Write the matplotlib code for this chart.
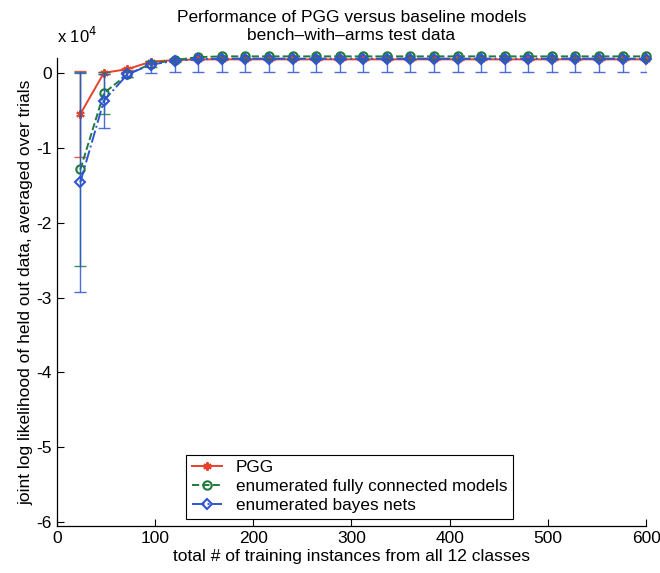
import matplotlib
matplotlib.use("Agg")
import matplotlib.pyplot as plt
from matplotlib.ticker import FuncFormatter

plt.rcParams['font.family'] = ['Liberation Sans', 'DejaVu Sans']

# training set sizes
n_train = [24, 48, 72, 96, 120, 144, 168, 192, 216, 240, 264, 288, 312,
           336, 360, 384, 408, 432, 456, 480, 504, 528, 552, 576, 600]

pgg = [-5500, 0, 500, 1500, 1700, 1800, 1800, 1800, 1800, 1800, 1800, 1800, 1800,
       1800, 1800, 1800, 1800, 1800, 1800, 1800, 1800, 1800, 1800, 1800, 1800]
pgg_err = [5700, 150, 150, 100, 100, 100, 100, 100, 100, 100, 100, 100, 100,
           100, 100, 100, 100, 100, 100, 100, 100, 100, 100, 100, 100]

full = [-12900, -2700, -200, 1200, 1700, 2100, 2200, 2200, 2200, 2200, 2200, 2200, 2200,
        2200, 2200, 2200, 2200, 2200, 2200, 2200, 2200, 2200, 2200, 2200, 2200]
full_err = [12900, 2800, 300, 400, 300, 300, 300, 300, 300, 300, 300, 300, 300,
            300, 300, 300, 300, 300, 300, 300, 300, 300, 300, 300, 300]

bayes = [-14600, -3700, -200, 1100, 1600, 1800, 1900, 1900, 1900, 1900, 1900, 1900, 1900,
         1900, 1900, 1900, 1900, 1900, 1900, 1900, 1900, 1900, 1900, 1900, 1900]
bayes_err = [14700, 3600, 300, 1100, 1500, 1700, 1800, 1800, 1800, 1800, 1800, 1800, 1800,
             1800, 1800, 1800, 1800, 1800, 1800, 1800, 1800, 1800, 1800, 1800, 1800]

red = '#e8412c'
green = '#1f7a3c'
blue = '#2f55d4'

fig = plt.figure(figsize=(6.6, 5.73), dpi=100)
ax = fig.add_axes([0.086, 0.082, 0.893, 0.817])

series = [
    (pgg, pgg_err, red, '-', (6, 2, 0), 'PGG'),
    (full, full_err, green, '--', 'o', 'enumerated fully connected models'),
    (bayes, bayes_err, blue, '-.', 'D', 'enumerated bayes nets'),
]
for vals, errs, col, ls, mk, lab in series:
    ax.errorbar(n_train, vals, yerr=errs, fmt='none', ecolor=col, elinewidth=1.0,
                capsize=4.5, capthick=1.0, alpha=0.85)
    ms = 5 if mk == 'D' else 6
    ax.plot(n_train, vals, color=col, linestyle=ls, marker=mk, markersize=ms,
            markerfacecolor='none', markeredgewidth=1.5,
            linewidth=1.4, label=lab, clip_on=False)

ax.set_xlim(0, 600)
ax.set_ylim(-60500, 2000)
ax.set_xticks([0, 100, 200, 300, 400, 500, 600])
ax.set_yticks([-60000, -50000, -40000, -30000, -20000, -10000, 0])
ax.yaxis.set_major_formatter(FuncFormatter(lambda v, p: '%d' % round(v / 1e4)))
ax.tick_params(direction='in', labelsize=12.5, length=5, width=0.8)
ax.spines['top'].set_visible(False)
ax.spines['right'].set_visible(False)
for s in ['left', 'bottom']:
    ax.spines[s].set_linewidth(0.9)

ax.text(0.0, 1.025, r'x 10$^4$', transform=ax.transAxes, fontsize=12, ha='left', va='bottom')
ax.set_title('Performance of PGG versus baseline models\nbench\u2013with\u2013arms test data',
             fontsize=12.5, pad=13, linespacing=1.2)
ax.set_xlabel('total # of training instances from all 12 classes', fontsize=12.5, labelpad=2)
ax.set_ylabel('joint log likelihood of held out data, averaged over trials', fontsize=12.5, labelpad=2)

leg = ax.legend(loc='lower left', bbox_to_anchor=(0.22, 0.016), fontsize=12.3, frameon=True,
                fancybox=False, edgecolor='black', framealpha=1, handlelength=1.8,
                borderpad=0.3, labelspacing=0.25, handletextpad=0.8, borderaxespad=0.0)
leg.get_frame().set_linewidth(0.8)

fig.savefig('out.png', dpi=100)
